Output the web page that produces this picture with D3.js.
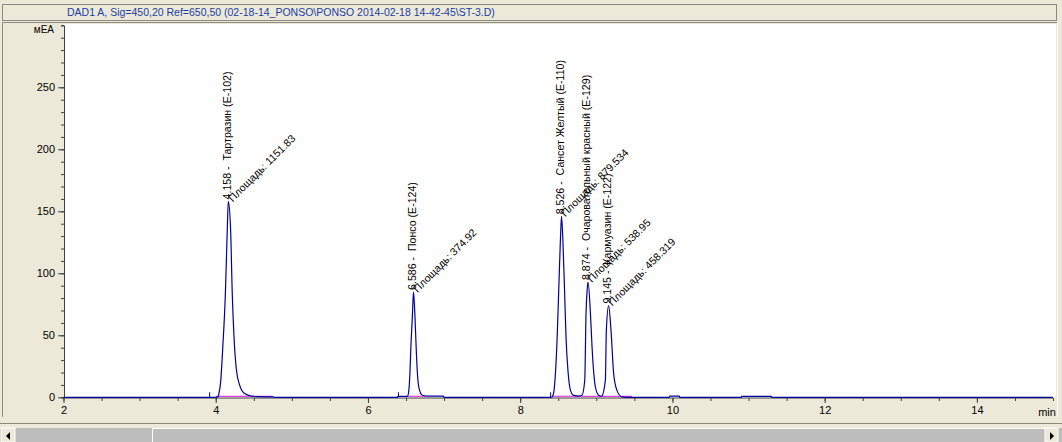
<!DOCTYPE html>
<html>
<head>
<meta charset="utf-8">
<script src="https://cdn.jsdelivr.net/npm/d3@7"></script>
<style>
  html, body { margin: 0; padding: 0; background: #ECE9D8; overflow: hidden; }
  svg { display: block; font-family: "Liberation Sans", Arial, sans-serif; }
  .pre { white-space: pre; }
</style>
</head>
<body>
<div id="chart"></div>
<script>
// chromatogram trace (min, mEA)
const traceTime = [2.0, 3.9, 4.0, 4.029, 4.042, 4.064, 4.094, 4.126, 4.152, 4.165, 4.195, 4.218, 4.239, 4.27, 4.313, 4.379, 4.467, 4.549, 4.75, 4.78,
  6.38, 6.40, 6.519, 6.537, 6.551, 6.564, 6.585, 6.598, 6.616, 6.633, 6.65, 6.672, 6.716, 6.76, 6.99, 7.0,
  8.40, 8.419, 8.442, 8.464, 8.485, 8.507, 8.529, 8.543, 8.56, 8.582, 8.603, 8.629, 8.661, 8.704, 8.769,
  8.812, 8.848, 8.865, 8.878, 8.891, 8.923, 8.944, 8.988, 9.031, 9.067,
  9.119, 9.132, 9.162, 9.193, 9.228, 9.271, 9.337, 9.40,
  9.96, 9.965, 10.09, 10.095, 10.905, 10.91, 11.30, 11.305, 15.0];
const traceSignal = [0, 0, 0, 0.3, 3, 12, 42, 82, 136, 158, 136, 82, 50, 23, 10, 3, 1, 0.5, 0.3, 0,
  0, 0.8, 0.8, 5.6, 19, 40.6, 67.5, 85, 67.5, 40.6, 19, 7, 1.6, 1, 1, 0,
  0, 0.3, 4.3, 20.4, 47, 87.7, 128, 146, 128, 87.7, 47, 20.4, 5.6, 1.5, 1,
  1.6, 13.7, 67.5, 85, 93, 67.5, 40.6, 8.3, 1.6, 0.8,
  13.7, 54, 74, 54, 19, 5.6, 0.3, 0,
  0, 1, 1, 0, 0, 0.8, 0.8, 0, 0];

// peaks
const peakTimes = [4.158, 6.586, 8.526, 8.874, 9.145];
const peakHeights = [158, 85, 146, 93, 74];
const peakNames = ["Тартразин (E-102)", "Понсо (E-124)", "Сансет Желтый (E-110)", "Очаровательный красный (E-129)", "Кармуазин (E-122)"];
const peakAreas = ["1151.83", "374.92", "879.534", "538.95", "458.319"];

// integration baselines + event marks
const baseStart = [4.004, 6.507, 8.415, 8.80];
const baseEnd = [4.748, 6.751, 8.80, 9.47];
const eventTimes = [3.92, 6.40, 8.40];

const xTicks = [2, 4, 6, 8, 10, 12, 14];
const yTicks = [0, 50, 100, 150, 200, 250];

const title = "DAD1 A, Sig=450,20 Ref=650,50 (02-18-14_PONSO\\PONSO 2014-02-18 14-42-45\\ST-3.D)";

const width = 1062;
const height = 442;
const plot = { left: 64, right: 1056, top: 24, bottom: 398 };

const svg = d3.select("#chart")
    .append("svg")
    .attr("width", width)
    .attr("height", height);

// window frame
svg.append("rect").attr("width", width).attr("height", height).attr("fill", "#ECE9D8");
svg.append("rect")
    .attr("x", 2.5).attr("y", 4.5).attr("width", 1054).attr("height", 16)
    .attr("fill", "#ECE9D8").attr("stroke", "#8a8a80");
svg.append("line").attr("x1", 2.5).attr("x2", 1057).attr("y1", 22.5).attr("y2", 22.5).attr("stroke", "#8a8a80");
svg.append("line").attr("x1", 2.5).attr("x2", 2.5).attr("y1", 22.5).attr("y2", 417).attr("stroke", "#8a8a80");
svg.append("line").attr("x1", 1057.5).attr("x2", 1057.5).attr("y1", 22.5).attr("y2", 417).attr("stroke", "#ffffff");
svg.append("line").attr("x1", 0).attr("x2", 1062).attr("y1", 423.5).attr("y2", 423.5).attr("stroke", "#8a8a80");

svg.append("text")
    .attr("x", 67).attr("y", 16)
    .attr("font-size", 10.5)
    .attr("fill", "#1a3ca8")
    .text(title);

// plot area
svg.append("rect")
    .attr("x", plot.left).attr("y", plot.top)
    .attr("width", plot.right - plot.left).attr("height", plot.bottom - plot.top)
    .attr("fill", "#ffffff");

const x = d3.scaleLinear().domain([2, 15]).range([63.5, 1053]);
const y = d3.scaleLinear().domain([0, 300]).range([397.3, 25.3]);

// y axis
const yAxis = svg.append("g")
    .attr("transform", `translate(${plot.left},0)`)
    .call(d3.axisLeft(y).tickValues(d3.range(0, 301, 10)).tickSize(3).tickFormat(""));
yAxis.select(".domain").attr("stroke", "#404040");
yAxis.selectAll(".tick line").attr("stroke", "#404040");

const yMajor = svg.append("g")
    .attr("transform", `translate(${plot.left},0)`)
    .call(d3.axisLeft(y).tickValues(yTicks).tickSize(6).tickPadding(3));
yMajor.select(".domain").remove();
yMajor.selectAll(".tick line").attr("stroke", "#404040");
yMajor.selectAll("text").attr("font-size", 11).attr("fill", "#000").attr("font-family", "Liberation Sans, Arial, sans-serif");

svg.append("text")
    .attr("x", 54).attr("y", 33)
    .attr("text-anchor", "end")
    .attr("font-size", 10)
    .text("мЕА");

// x axis
const xAxis = svg.append("g")
    .attr("transform", `translate(0,${plot.bottom})`)
    .call(d3.axisBottom(x).tickValues(d3.range(2, 15.01, 0.5)).tickSize(3).tickFormat(""));
xAxis.select(".domain").attr("stroke", "#404040").attr("d", `M${x(2)},0H${x(15)}`);
xAxis.selectAll(".tick line").attr("stroke", "#404040");

const xMajor = svg.append("g")
    .attr("transform", `translate(0,${plot.bottom})`)
    .call(d3.axisBottom(x).tickValues(xTicks).tickSize(5).tickPadding(3));
xMajor.select(".domain").remove();
xMajor.selectAll(".tick line").attr("stroke", "#404040");
xMajor.selectAll("text").attr("font-size", 11).attr("fill", "#000").attr("font-family", "Liberation Sans, Arial, sans-serif");

svg.append("text")
    .attr("x", 1047).attr("y", 416)
    .attr("text-anchor", "middle")
    .attr("font-size", 11)
    .text("min");

// integration baselines
svg.selectAll(".base")
    .data(baseStart)
    .enter()
    .append("line")
    .attr("class", "base")
    .attr("x1", (d, i) => x(d))
    .attr("x2", (d, i) => x(baseEnd[i]))
    .attr("y1", y(0.8))
    .attr("y2", y(0.8))
    .attr("stroke", "#e040e0")
    .attr("stroke-width", 1.2);

svg.selectAll(".event")
    .data(eventTimes)
    .enter()
    .append("line")
    .attr("class", "event")
    .attr("x1", d => x(d)).attr("x2", d => x(d))
    .attr("y1", y(0)).attr("y2", y(0) - 5)
    .attr("stroke", "#000060");

// trace
const line = d3.line()
    .x((d, i) => x(traceTime[i]))
    .y(d => y(d))
    .curve(d3.curveMonotoneX);

svg.append("path")
    .datum(traceSignal)
    .attr("fill", "none")
    .attr("stroke", "#00009a")
    .attr("stroke-width", 1.2)
    .attr("d", line);

// peak labels
const labels = svg.append("g").attr("font-size", 10.6).attr("fill", "#000");

peakTimes.forEach((t, i) => {
    const px = x(t);
    const py = y(peakHeights[i]) - 2;
    labels.append("text")
        .attr("class", "pre")
        .attr("transform", `translate(${px},${py}) rotate(-90)`)
        .attr("dy", "0.35em")
        .text(`${t.toFixed(3)} -  ${peakNames[i]}`);
    labels.append("text")
        .attr("class", "pre")
        .attr("transform", `translate(${px + 5},${py + 3}) rotate(-45)`)
        .text(`Площадь: ${peakAreas[i]}`);
});

// scrollbar
svg.append("rect").attr("x", 0).attr("y", 428).attr("width", width).attr("height", 14).attr("fill", "#bdbdbd");
svg.append("rect").attr("x", 1).attr("y", 428).attr("width", 14).attr("height", 14).attr("fill", "#ECE9D8").attr("stroke", "#ffffff");
svg.append("rect").attr("x", 1045).attr("y", 428).attr("width", 13).attr("height", 14).attr("fill", "#ECE9D8").attr("stroke", "#ffffff");
svg.append("line").attr("x1", 152.5).attr("x2", 152.5).attr("y1", 428).attr("y2", 442).attr("stroke", "#ffffff");
svg.append("line").attr("x1", 152.5).attr("x2", 1045).attr("y1", 428.5).attr("y2", 428.5).attr("stroke", "#ffffff");
svg.append("path").attr("d", "M6,436L10,432L10,440Z").attr("fill", "#000");
svg.append("path").attr("d", "M1054,436L1050,432L1050,440Z").attr("fill", "#000");
</script>
</body>
</html>
